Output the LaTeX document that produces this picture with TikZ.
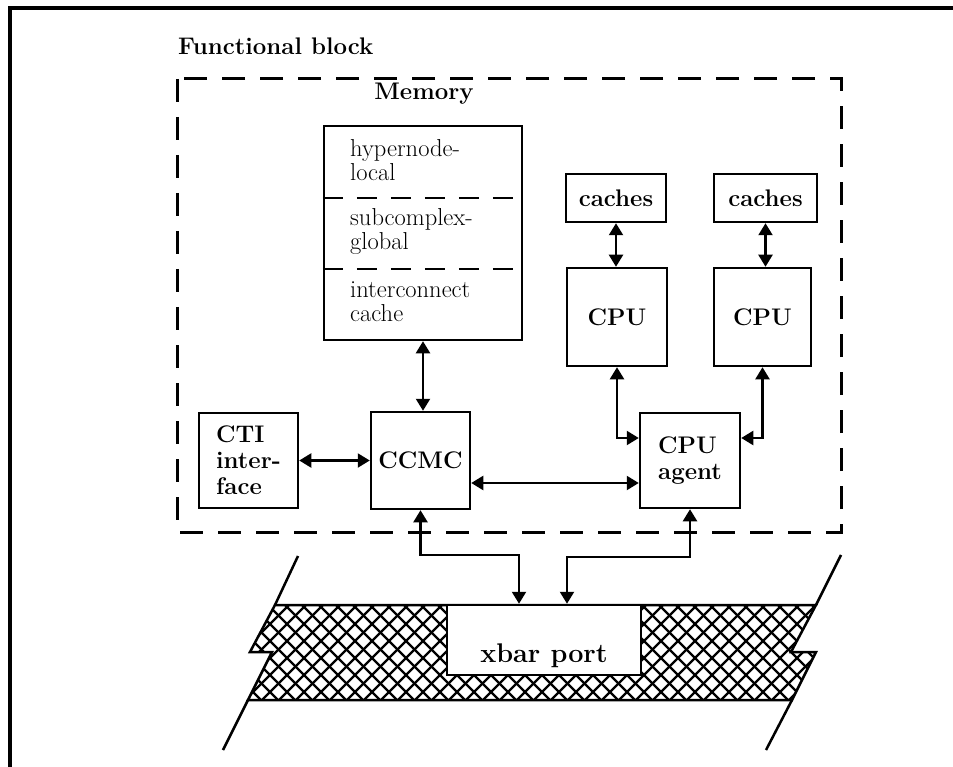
\documentclass[tikz,border=0pt]{standalone}
\usetikzlibrary{arrows.meta}

\newcommand\lblfont{\fontsize{24}{26}\selectfont\bfseries}
\newcommand\memfont{\fontsize{24.5}{23}\selectfont}

\tikzset{
  frameline/.style={line width=3.5pt},
  blockdash/.style={line width=3pt, dash pattern=on 23pt off 15pt},
  sepdash/.style={line width=2.5pt, dash pattern=on 20pt off 14pt},
  box/.style={draw, line width=2.5pt, fill=white, inner sep=0pt, font=\lblfont},
  memtext/.style={anchor=base west, inner sep=0pt, font=\memfont},
  link/.style={line width=2.2pt, >={Triangle[length=12pt,width=14pt]}, <->},
  hatchline/.style={line width=2.2pt},
  busedge/.style={line width=2.5pt, line join=miter},
}

\begin{document}
\begin{tikzpicture}[x=1pt, y=-1pt]
\useasboundingbox (0,0) rectangle (953,767);

% page frame
\draw[frameline] (10,767) -- (10,8) -- (953,8);

% functional block outline and heading
\node[anchor=base west, inner sep=0pt, font=\lblfont] (fbtitle) at (178,55) {Functional block};
\draw[blockdash] (177,79) rectangle (841,532);

% memory
\node[anchor=base, inner sep=0pt, font=\lblfont] (memtitle) at (424,100) {Memory};
\node[box, minimum width=198pt, minimum height=214pt] (mem) at (423,233) {};
\coordinate (sepA) at (0,198);
\coordinate (sepB) at (0,269);
\draw[sepdash] (mem.west |- sepA) -- (mem.east |- sepA);
\draw[sepdash] (mem.west |- sepB) -- (mem.east |- sepB);
\node[memtext] (hyp) at (350,157) {hypernode-};
\node[memtext] (loc) at (350,181) {local};
\node[memtext] (sub) at (350,226) {subcomplex-};
\node[memtext] (glo) at (350,250) {global};
\node[memtext] (inter) at (350,298) {interconnect};
\node[memtext] (cac) at (350,322) {cache};

% processing blocks
\node[box, align=left, minimum width=99pt, minimum height=95pt] (cti) at (248.5,460.5) {CTI\\inter-\\face};
\node[box, minimum width=99pt, minimum height=97pt] (ccmc) at (420.5,460.5) {CCMC};
\node[box, align=left, minimum width=100pt, minimum height=95pt] (agent) at (690,460.5) {CPU\\agent};
\node[box, minimum width=100pt, minimum height=98pt] (cpuA) at (617,317) {CPU};
\node[box, minimum width=97pt, minimum height=98pt] (cpuB) at (762.5,317) {CPU};
\node[box, minimum width=100pt, minimum height=48pt] (cacheA) at (616,198) {caches};
\node[box, minimum width=103pt, minimum height=48pt] (cacheB) at (765.5,198) {caches};

% crossbar strip
\begin{scope}
  \clip (275,605) -- (816,605) -- (791,652) -- (816,652) -- (792,700)
        -- (248,700) -- (272,652) -- (250,652) -- cycle;
  \foreach \i in {100,117,...,960} {
    \draw[hatchline] (\i,590) -- ++(130,130);
    \draw[hatchline] (\i,590) -- ++(-130,130);
  }
\end{scope}
\draw[busedge] (275,605) -- (816,605) -- (791,652) -- (816,652) -- (792,700)
      -- (248,700) -- (272,652) -- (250,652) -- cycle;
\draw[busedge] (298,556) -- (275,605);
\draw[busedge] (248,700) -- (223,750);
\draw[busedge] (841,555) -- (816,605);
\draw[busedge] (792,700) -- (766,750);

\node[box, minimum width=194pt, minimum height=70pt] (xbar) at (544,640) {};
\node[anchor=base, inner sep=0pt, font=\fontsize{27}{30}\selectfont\bfseries] (xbarlbl) at (544,662) {xbar port};

% connections
\coordinate (rowA) at (0,438);
\coordinate (rowB) at (0,483);
\coordinate (jA) at (519,555);
\coordinate (jB) at (567,557);

\draw[link] (mem.south) -- (mem.south |- ccmc.north);
\draw[link] (cti.east) -- (cti.east -| ccmc.west);
\draw[link] (ccmc.east |- rowB) -- (agent.west |- rowB);
\draw[link] (cacheA.south) -- (cacheA.south |- cpuA.north);
\draw[link] (cacheB.south) -- (cacheB.south |- cpuB.north);
\draw[link] (cpuA.south) |- (agent.west |- rowA);
\draw[link] (cpuB.south) |- (agent.east |- rowA);
\draw[link] (ccmc.south) |- (jA) -- (jA |- xbar.north);
\draw[link] (agent.south) |- (jB) -- (jB |- xbar.north);
\end{tikzpicture}
\end{document}
